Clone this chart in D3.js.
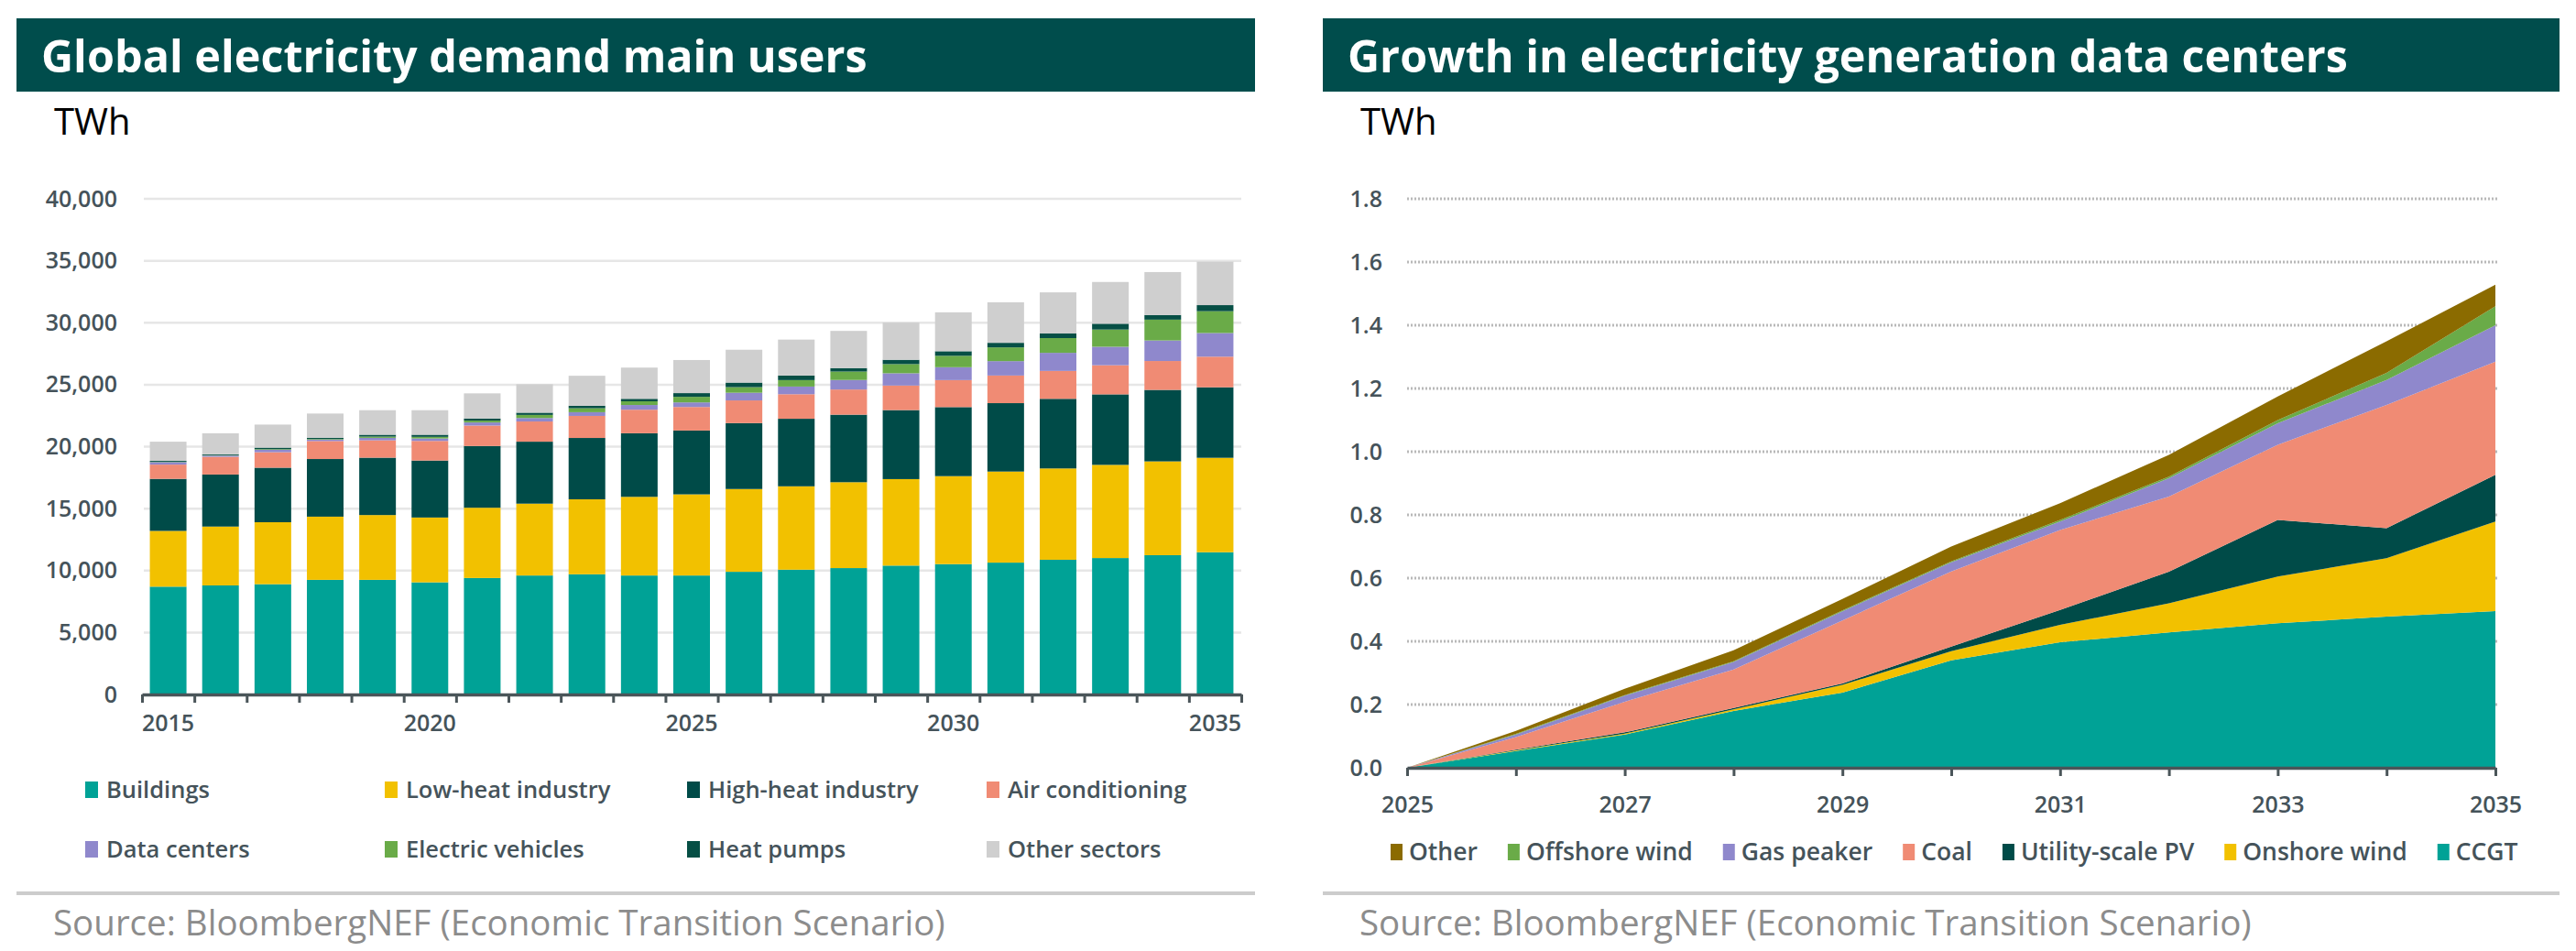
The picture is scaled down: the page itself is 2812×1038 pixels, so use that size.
<!DOCTYPE html>
<html>
<head>
<meta charset="utf-8">
<script src="https://cdn.jsdelivr.net/npm/d3@7"></script>
<style>
  body { margin: 0; background: #ffffff; }
  text { font-family: "Open Sans", "Noto Sans", sans-serif; }
</style>
</head>
<body>
<div id="chart"></div>
<script>
// ---- data: global electricity demand by user (TWh) ----
const demandYears = [2015, 2016, 2017, 2018, 2019, 2020, 2021, 2022, 2023, 2024, 2025, 2026, 2027, 2028, 2029, 2030, 2031, 2032, 2033, 2034, 2035];
const buildings = [8700, 8800, 8900, 9250, 9250, 9050, 9400, 9600, 9700, 9600, 9600, 9900, 10070, 10200, 10400, 10520, 10640, 10870, 11010, 11240, 11480];
const lowHeatIndustry = [4500, 4750, 5000, 5100, 5230, 5230, 5670, 5800, 6050, 6350, 6550, 6680, 6730, 6930, 6980, 7100, 7350, 7370, 7520, 7570, 7620];
const highHeatIndustry = [4200, 4200, 4400, 4650, 4630, 4600, 4980, 5000, 4950, 5130, 5150, 5320, 5450, 5450, 5570, 5570, 5520, 5620, 5690, 5770, 5690];
const airConditioning = [1150, 1430, 1250, 1450, 1400, 1580, 1650, 1630, 1780, 1900, 1900, 1830, 1980, 2030, 1980, 2180, 2230, 2250, 2350, 2330, 2470];
const dataCenters = [200, 100, 200, 120, 200, 200, 250, 280, 300, 380, 370, 620, 620, 770, 990, 1040, 1160, 1460, 1490, 1660, 1910];
const electricVehicles = [20, 30, 50, 50, 100, 130, 150, 250, 320, 300, 450, 450, 520, 680, 740, 920, 1110, 1190, 1390, 1680, 1760];
const heatPumps = [80, 70, 120, 100, 150, 170, 170, 180, 200, 200, 300, 370, 370, 280, 350, 370, 370, 370, 470, 370, 490];
const otherSectors = [1550, 1700, 1860, 1950, 1980, 1980, 2030, 2300, 2420, 2520, 2670, 2650, 2900, 3000, 3000, 3140, 3270, 3320, 3370, 3470, 3510];
const demandTicks = [0, 5000, 10000, 15000, 20000, 25000, 30000, 35000, 40000];
const demandYearLabels = [2015, 2020, 2025, 2030, 2035];

// ---- data: generation serving data centers (TWh) ----
const genYears = [2025, 2026, 2027, 2028, 2029, 2030, 2031, 2032, 2033, 2034, 2035];
const ccgt = [0, 0.053, 0.105, 0.18, 0.238, 0.34, 0.397, 0.428, 0.457, 0.478, 0.496];
const onshoreWind = [0, 0.002, 0.003, 0.005, 0.024, 0.029, 0.055, 0.092, 0.148, 0.185, 0.283];
const utilityPV = [0, 0.002, 0.004, 0.004, 0.005, 0.014, 0.047, 0.10, 0.179, 0.095, 0.148];
const coal = [0, 0.04, 0.097, 0.122, 0.199, 0.238, 0.253, 0.238, 0.238, 0.39, 0.358];
const gasPeaker = [0, 0.008, 0.019, 0.024, 0.029, 0.029, 0.027, 0.058, 0.068, 0.079, 0.115];
const offshoreWind = [0, 0.002, 0.002, 0.002, 0.003, 0.003, 0.005, 0.005, 0.01, 0.022, 0.06];
const otherGen = [0, 0.01, 0.02, 0.035, 0.036, 0.047, 0.053, 0.069, 0.075, 0.10, 0.068];
const genTicks = [0, 0.2, 0.4, 0.6, 0.8, 1.0, 1.2, 1.4, 1.6, 1.8];
const genYearLabels = [2025, 2027, 2029, 2031, 2033, 2035];

// colours
const TEAL = "#00a296", YELLOW = "#f2c100", DARK = "#004b48", SALMON = "#f08b74",
      PURPLE = "#8f88cc", GREEN = "#6aab48", LIGHTGREY = "#cfcfcf", OLIVE = "#8b6b00",
      HEADER = "#004d4c", AXIS = "#4a5559", LABEL = "#45535a";

const demandSeries = [
  { key: "Buildings", values: buildings, color: TEAL },
  { key: "Low-heat industry", values: lowHeatIndustry, color: YELLOW },
  { key: "High-heat industry", values: highHeatIndustry, color: DARK },
  { key: "Air conditioning", values: airConditioning, color: SALMON },
  { key: "Data centers", values: dataCenters, color: PURPLE },
  { key: "Electric vehicles", values: electricVehicles, color: GREEN },
  { key: "Heat pumps", values: heatPumps, color: "#064f45" },
  { key: "Other sectors", values: otherSectors, color: LIGHTGREY }
];

const genSeries = [
  { key: "CCGT", values: ccgt, color: TEAL },
  { key: "Onshore wind", values: onshoreWind, color: YELLOW },
  { key: "Utility-scale PV", values: utilityPV, color: DARK },
  { key: "Coal", values: coal, color: SALMON },
  { key: "Gas peaker", values: gasPeaker, color: PURPLE },
  { key: "Offshore wind", values: offshoreWind, color: GREEN },
  { key: "Other", values: otherGen, color: OLIVE }
];

const svg = d3.select("#chart").append("svg").attr("width", 2812).attr("height", 1038);

function panelFrame(x0, width, title) {
  svg.append("rect").attr("x", x0).attr("y", 20).attr("width", width).attr("height", 80).attr("fill", HEADER);
  svg.append("text").attr("x", x0 + 27).attr("y", 79).attr("fill", "#fff")
    .attr("font-size", "48.5px").attr("font-weight", 700).text(title);
  svg.append("text").attr("x", x0 + 41).attr("y", 147).attr("fill", "#000")
    .attr("font-size", "40px").text("TWh");
  svg.append("line").attr("x1", x0).attr("x2", x0 + width).attr("y1", 975).attr("y2", 975)
    .attr("stroke", "#cccccc").attr("stroke-width", 4);
  svg.append("text").attr("x", x0 + 40).attr("y", 1021).attr("fill", "#8c8c8c")
    .attr("font-size", "38.5px").text("Source: BloombergNEF (Economic Transition Scenario)");
}

// ================= left: stacked bars =================
panelFrame(18, 1352, "Global electricity demand main users");

const xBand = d3.scaleBand().domain(demandYears).range([155, 1355]).paddingInner(0.3).paddingOuter(0.15);
const yDemand = d3.scaleLinear().domain([0, 40000]).range([758, 217]);

// gridlines
svg.append("g").selectAll("line").data(demandTicks.slice(1)).join("line")
  .attr("x1", 157).attr("x2", 1355)
  .attr("y1", d => yDemand(d)).attr("y2", d => yDemand(d))
  .attr("stroke", "#e6e6e6").attr("stroke-width", 2.5);

const demandRows = demandYears.map((yr, i) => {
  const row = { year: yr };
  demandSeries.forEach(s => { row[s.key] = s.values[i]; });
  return row;
});
const demandStack = d3.stack().keys(demandSeries.map(s => s.key))(demandRows);

svg.append("g").selectAll("g").data(demandStack).join("g")
  .attr("fill", (d, i) => demandSeries[i].color)
  .selectAll("rect").data(d => d).join("rect")
  .attr("x", d => xBand(d.data.year))
  .attr("width", xBand.bandwidth())
  .attr("y", d => yDemand(d[1]))
  .attr("height", d => yDemand(d[0]) - yDemand(d[1]));

// y labels
const yAxisL = svg.append("g").attr("transform", "translate(155,0)")
  .call(d3.axisLeft(yDemand).tickValues(demandTicks).tickSize(0).tickPadding(27).tickFormat(d3.format(",")));
yAxisL.select(".domain").remove();
yAxisL.selectAll("text").attr("font-size", "25px").attr("font-weight", 600).attr("fill", LABEL)
  .attr("font-family", '"Open Sans", sans-serif');

// x axis: ticks on band boundaries
const xEdge = d3.scaleLinear().domain([0, demandYears.length]).range([155, 1355]);
const xAxisL = svg.append("g").attr("transform", "translate(0,758)")
  .call(d3.axisBottom(xEdge).tickValues(d3.range(0, demandYears.length + 1)).tickSize(9).tickSizeOuter(0).tickFormat(""));
xAxisL.select(".domain").attr("stroke", AXIS).attr("stroke-width", 3.5);
xAxisL.selectAll(".tick line").attr("stroke", AXIS).attr("stroke-width", 3);

const xLabL = svg.append("g").attr("transform", "translate(0,758)")
  .call(d3.axisBottom(xBand).tickValues(demandYearLabels).tickSize(0).tickPadding(22));
xLabL.select(".domain").remove();
xLabL.selectAll("text").attr("font-size", "25px").attr("font-weight", 600).attr("fill", LABEL)
  .attr("font-family", '"Open Sans", sans-serif');

// legend (4 columns x 2 rows)
const legCols = [93, 420, 750, 1077];
const legL = svg.append("g").selectAll("g").data(demandSeries).join("g")
  .attr("transform", (d, i) => `translate(${legCols[i % 4]},${i < 4 ? 862 : 927})`);
legL.append("rect").attr("x", 0).attr("y", -9).attr("width", 14).attr("height", 18).attr("fill", d => d.color);
legL.append("text").attr("x", 23).attr("y", 9).attr("font-size", "25.5px").attr("font-weight", 600)
  .attr("fill", LABEL).text(d => d.key);

// ================= right: stacked area =================
panelFrame(1444, 1350, "Growth in electricity generation data centers");

const xGen = d3.scaleLinear().domain([2025, 2035]).range([1536, 2724]);
const yGen = d3.scaleLinear().domain([0, 1.8]).range([838, 217]);

svg.append("g").selectAll("line").data(genTicks.slice(1)).join("line")
  .attr("x1", 1536).attr("x2", 2726)
  .attr("y1", d => yGen(d)).attr("y2", d => yGen(d))
  .attr("stroke", "#b9b9b9").attr("stroke-width", 3).attr("stroke-dasharray", "2,2");

const genRows = genYears.map((yr, i) => {
  const row = { year: yr };
  genSeries.forEach(s => { row[s.key] = s.values[i]; });
  return row;
});
const genStack = d3.stack().keys(genSeries.map(s => s.key))(genRows);
const area = d3.area().x(d => xGen(d.data.year)).y0(d => yGen(d[0])).y1(d => yGen(d[1]));

svg.append("g").selectAll("path").data(genStack).join("path")
  .attr("fill", (d, i) => genSeries[i].color)
  .attr("d", area);

const yAxisR = svg.append("g").attr("transform", "translate(1536,0)")
  .call(d3.axisLeft(yGen).tickValues(genTicks).tickSize(0).tickPadding(27).tickFormat(d3.format(".1f")));
yAxisR.select(".domain").remove();
yAxisR.selectAll("text").attr("font-size", "25px").attr("font-weight", 600).attr("fill", LABEL)
  .attr("font-family", '"Open Sans", sans-serif');

const xAxisR = svg.append("g").attr("transform", "translate(0,838)")
  .call(d3.axisBottom(xGen).tickValues(genYears).tickSize(9).tickSizeOuter(0).tickPadding(22)
    .tickFormat(d => genYearLabels.includes(d) ? d : ""));
xAxisR.select(".domain").attr("stroke", AXIS).attr("stroke-width", 3.5);
xAxisR.selectAll(".tick line").attr("stroke", AXIS).attr("stroke-width", 3);
xAxisR.selectAll("text").attr("font-size", "25px").attr("font-weight", 600).attr("fill", LABEL)
  .attr("font-family", '"Open Sans", sans-serif');

// legend, one row, legend order is top of stack first
const legR = svg.append("g").attr("transform", "translate(1518,930)");
let cursor = 0;
genSeries.slice().reverse().forEach(s => {
  const g = legR.append("g").attr("transform", `translate(${cursor},0)`);
  g.append("rect").attr("x", 0).attr("y", -9).attr("width", 13).attr("height", 18).attr("fill", s.color);
  const t = g.append("text").attr("x", 20).attr("y", 9).attr("font-size", "26.5px").attr("font-weight", 600)
    .attr("fill", LABEL).text(s.key);
  cursor += 20 + t.node().getComputedTextLength() + 33;
});
</script>
</body>
</html>
